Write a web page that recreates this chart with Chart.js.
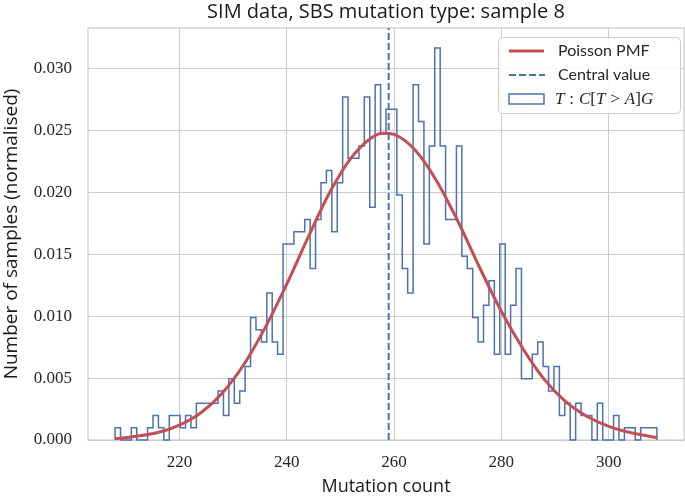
<!DOCTYPE html>
<html>
<head>
<meta charset="utf-8">
<script src="https://cdn.jsdelivr.net/npm/chart.js@4/dist/chart.umd.min.js"></script>
<style>
  html, body { margin: 0; padding: 0; background: #fff; }
  #contenedor { width: 685px; height: 497px; }
  canvas { display: block; }
</style>
</head>
<body>
<div id="contenedor"><canvas id="grafica" width="685" height="497"></canvas></div>
<script>
// histograma: 100 bins desde 208 con ancho 1.01, conteos sobre 1000 muestras
const inicioBins = 208
const anchoBin = 1.01
const totalMuestras = 1000
const conteos = [
  1, 0, 0, 1, 0, 0, 1, 2, 1, 0,
  2, 2, 1, 2, 1, 3, 3, 3, 3, 4,
  2, 5, 3, 4, 6, 10, 9, 8, 12, 8,
  7, 16, 16, 17, 17, 18, 14, 18, 21, 22,
  17, 21, 28, 23, 23, 24, 28, 19, 29, 25,
  27, 27, 20, 14, 12, 29, 26, 16, 24, 32,
  24, 18, 18, 24, 15, 14, 10, 8, 11, 13,
  7, 16, 7, 11, 14, 5, 5, 7, 8, 6,
  4, 6, 2, 3, 0, 3, 2, 2, 0, 3,
  0, 0, 2, 0, 1, 1, 0, 1, 1, 1
]

// curva Poisson
const poissonX = [208, 212, 216, 220, 224, 228, 232, 236, 240, 244, 248, 252, 256, 258, 260, 264, 268, 272, 276, 280, 284, 288, 292, 296, 300, 304, 309]
const poissonY = [0.0001, 0.0003, 0.0006, 0.0012, 0.0022, 0.0038, 0.0061, 0.0091, 0.0126, 0.0164, 0.0200, 0.0228, 0.0245, 0.0248, 0.0247, 0.0234, 0.0209, 0.0176, 0.0139, 0.0104, 0.0074, 0.0049, 0.0031, 0.0019, 0.0011, 0.0006, 0.0002]

const valorCentral = 259

const ticksX = [220, 240, 260, 280, 300]
const ticksY = [0, 0.005, 0.010, 0.015, 0.020, 0.025, 0.030]
const limitesX = [202.95, 314.05]
const limitesY = [0, 0.0333]

const titulo = 'SIM data, SBS mutation type: sample 8'
const etiquetas = ['Poisson PMF', 'Central value', 'T : C[T > A]G']

const AZUL = '#4c72b0'
const ROJO = '#c44e52'
const GRIS = '#cccccc'
const SANS = '"Open Sans"'
const SANS_LEYENDA = 'Lato'
const SERIF = '"Liberation Serif"'

const generarEscalones = () => {
  const puntos = [{x: inicioBins, y: 0}]
  conteos.forEach((c, i) => {
    puntos.push({x: inicioBins + i * anchoBin, y: c / (totalMuestras * anchoBin)})
  })
  const fin = inicioBins + conteos.length * anchoBin
  puntos.push({x: fin, y: conteos[conteos.length - 1] / (totalMuestras * anchoBin)})
  puntos.push({x: fin, y: 0})
  return puntos
}

const marco = {
  id: 'marco',
  beforeDatasetsDraw(chart) {
    const {ctx, chartArea} = chart
    ctx.save()
    ctx.strokeStyle = GRIS
    ctx.lineWidth = 1.25
    ctx.strokeRect(chartArea.left, chartArea.top, chartArea.right - chartArea.left, chartArea.bottom - chartArea.top)
    ctx.restore()
  }
}

// titulo centrado sobre el area del grafico
const tituloCentrado = {
  id: 'tituloCentrado',
  afterDraw(chart) {
    const {ctx, chartArea} = chart
    ctx.save()
    ctx.fillStyle = '#1a1a1a'
    ctx.font = '20px ' + SANS
    ctx.textAlign = 'center'
    ctx.textBaseline = 'middle'
    ctx.fillText(titulo, (chartArea.left + chartArea.right) / 2, 12)
    ctx.restore()
  }
}

const leyenda = {
  id: 'leyenda',
  afterDatasetsDraw(chart) {
    const {ctx, chartArea} = chart
    const x = chartArea.right - 186, y = chartArea.top + 9
    const w = 182, h = 76
    ctx.save()
    ctx.beginPath()
    ctx.roundRect(x + 0.5, y + 0.5, w, h, 4)
    ctx.fillStyle = 'rgba(255,255,255,0.85)'
    ctx.fill()
    ctx.strokeStyle = GRIS
    ctx.lineWidth = 1
    ctx.stroke()

    const xm = x + 11, xt = x + 60
    const filas = [y + 14, y + 38, y + 62]

    ctx.lineWidth = 3
    ctx.strokeStyle = ROJO
    ctx.beginPath(); ctx.moveTo(xm, filas[0]); ctx.lineTo(xm + 35, filas[0]); ctx.stroke()

    ctx.lineWidth = 2
    ctx.strokeStyle = AZUL
    ctx.setLineDash([7, 3])
    ctx.beginPath(); ctx.moveTo(xm, filas[1]); ctx.lineTo(xm + 36, filas[1]); ctx.stroke()
    ctx.setLineDash([])

    ctx.lineWidth = 1.5
    ctx.strokeRect(xm, filas[2] - 5, 35, 10)

    ctx.fillStyle = '#262626'
    ctx.textBaseline = 'middle'
    ctx.font = '16px ' + SANS_LEYENDA
    ctx.fillText(etiquetas[0], xt, filas[0])
    ctx.fillText(etiquetas[1], xt, filas[1])

    // etiqueta matematica: letras en cursiva
    let cx = xt - 3
    for (const ch of etiquetas[2]) {
      const esLetra = /[A-Za-z]/.test(ch)
      ctx.font = (esLetra ? 'italic ' : '') + '17px ' + SERIF
      const txt = ch === ' ' ? '\u2009' : ch
      ctx.fillText(txt, cx, filas[2] + 1)
      cx += ctx.measureText(txt).width + (ch === ' ' ? 1.5 : 0)
    }
    ctx.restore()
  }
}

var ctx = document.getElementById('grafica').getContext('2d')

new Chart(ctx, {
  type: 'line',
  data: {
    datasets: [
      {
        label: etiquetas[1],
        data: [{x: valorCentral, y: limitesY[0]}, {x: valorCentral, y: limitesY[1]}],
        borderColor: AZUL,
        borderWidth: 2,
        borderDash: [7, 3],
        pointRadius: 0,
        fill: false
      },
      {
        label: etiquetas[0],
        data: poissonX.map((v, i) => ({x: v, y: poissonY[i]})),
        borderColor: ROJO,
        borderWidth: 3,
        cubicInterpolationMode: 'monotone',
        pointRadius: 0,
        fill: false
      },
      {
        label: etiquetas[2],
        data: generarEscalones(),
        borderColor: AZUL,
        borderWidth: 1.5,
        stepped: true,
        pointRadius: 0,
        fill: false,
        clip: 4
      }
    ]
  },
  options: {
    responsive: false,
    animation: false,
    layout: {padding: {left: 0, right: 1, top: 28, bottom: 0}},
    plugins: {
      legend: {display: false},
      tooltip: {enabled: false},
      title: {display: false}
    },
    scales: {
      x: {
        type: 'linear',
        min: limitesX[0],
        max: limitesX[1],
        afterBuildTicks: (scale) => { scale.ticks = ticksX.map(v => ({value: v})) },
        afterFit: (scale) => { scale.height = 57 },
        grid: {color: GRIS, lineWidth: 1, drawTicks: false},
        border: {display: false},
        ticks: {
          padding: 12,
          color: '#262626',
          font: {family: SERIF, size: 17},
          callback: (v) => String(v)
        },
        title: {
          display: true,
          text: 'Mutation count',
          color: '#1a1a1a',
          font: {family: SANS, size: 18, lineHeight: 1.1},
          padding: {top: 0, bottom: 0}
        }
      },
      y: {
        type: 'linear',
        min: limitesY[0],
        max: limitesY[1],
        afterBuildTicks: (scale) => { scale.ticks = ticksY.map(v => ({value: v})) },
        afterFit: (scale) => { scale.width = 88 },
        grid: {color: GRIS, lineWidth: 1, drawTicks: false},
        border: {display: false},
        ticks: {
          padding: 16,
          color: '#262626',
          font: {family: SERIF, size: 17},
          callback: (v) => Number(v).toFixed(3)
        },
        title: {
          display: true,
          text: 'Number of samples (normalised)',
          color: '#1a1a1a',
          font: {family: SANS, size: 19, lineHeight: 1.2},
          padding: {top: 0, bottom: 0}
        }
      }
    }
  },
  plugins: [marco, leyenda, tituloCentrado]
})
</script>
</body>
</html>
